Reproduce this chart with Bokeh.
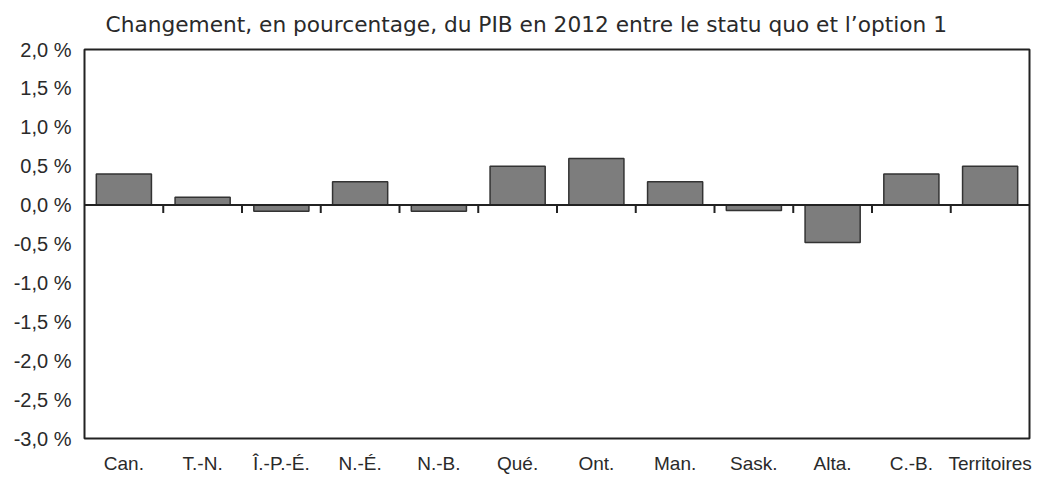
from bokeh.plotting import figure
from bokeh.models import FactorRange, Range1d, FixedTicker, Span
from bokeh.embed import file_html
from bokeh.resources import INLINE

categories = ["Can.", "T.-N.", "Î.-P.-É.", "N.-É.", "N.-B.", "Qué.", "Ont.",
              "Man.", "Sask.", "Alta.", "C.-B.", "Territoires"]
values = [0.40, 0.10, -0.08, 0.30, -0.08, 0.50, 0.60, 0.30, -0.07, -0.48, 0.40, 0.50]
y_ticks = [2.0, 1.5, 1.0, 0.5, 0.0, -0.5, -1.0, -1.5, -2.0, -2.5, -3.0]
y_tick_labels = ["2,0 %", "1,5 %", "1,0 %", "0,5 %", "0,0 %", "-0,5 %", "-1,0 %",
                 "-1,5 %", "-2,0 %", "-2,5 %", "-3,0 %"]
title_text = "Changement, en pourcentage, du PIB en 2012 entre le statu quo et l\u2019option 1"

FONT = "Liberation Sans"
TXT = "#2a2a2a"

p = figure(width=1032, height=476, x_range=FactorRange(*categories),
           y_range=Range1d(-3.0, 2.0), output_backend="svg", toolbar_location=None,
           min_border_left=84, min_border_right=3, min_border_top=45, min_border_bottom=36)

p.title.text = title_text
p.title.align = "left"
p.title.offset = 21
p.title.text_font = "DejaVu Sans"
p.title.text_font_size = "21.7px"
p.title.text_font_style = "normal"
p.title.text_color = TXT
p.title.vertical_align = "top"
p.title.standoff = 22

p.outline_line_color = "#222222"
p.outline_line_width = 2
p.xgrid.visible = False
p.ygrid.visible = False
p.background_fill_color = "white"
p.border_fill_color = "white"

p.vbar(x=categories, top=values, bottom=0, width=0.7,
       fill_color="#7d7d7d", line_color="#333333", line_width=1.5)

p.add_layout(Span(location=0, dimension="width", line_color="#222222", line_width=2))

bounds = list(range(1, len(categories)))
p.segment(x0=bounds, x1=bounds, y0=[0] * len(bounds), y1=[-0.1] * len(bounds),
          line_color="#222222", line_width=2)

p.yaxis.ticker = FixedTicker(ticks=y_ticks)
p.yaxis.major_label_overrides = {t: l for t, l in zip(y_ticks, y_tick_labels)}
p.yaxis.axis_line_color = None
p.yaxis.major_tick_line_color = None
p.yaxis.minor_tick_line_color = None
p.yaxis.major_tick_out = 0
p.yaxis.major_label_text_font = FONT
p.yaxis.major_label_text_font_size = "20px"
p.yaxis.major_label_text_color = TXT
p.yaxis.major_label_standoff = 13

p.xaxis.axis_line_color = None
p.xaxis.major_tick_line_color = None
p.xaxis.minor_tick_line_color = None
p.xaxis.major_tick_out = 0
p.xaxis.major_label_text_font = FONT
p.xaxis.major_label_text_font_size = "19px"
p.xaxis.major_label_text_color = TXT
p.xaxis.major_label_standoff = 14

open("out.html", "w").write(file_html(p, INLINE))
